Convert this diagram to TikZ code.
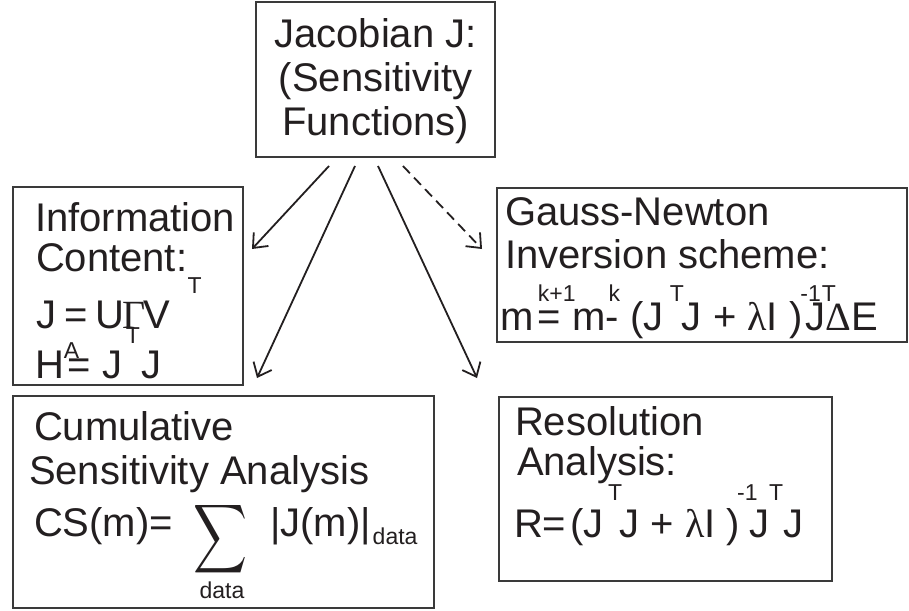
\documentclass[tikz,border=0pt]{standalone}
\usepackage{fontspec}
\setmainfont{Liberation Sans}
\newfontfamily\grk{Liberation Serif}
\usepackage{graphicx}
\usetikzlibrary{arrows.meta}
\definecolor{ink}{HTML}{231F20}
\definecolor{edge}{HTML}{3A3A3A}
\newcommand\supf{\fontsize{23}{23}\selectfont}
\newcommand\myup[2]{\raisebox{#1pt}{\supf #2}}
\newcommand\myov[3]{\rlap{\hspace*{#1pt}\raisebox{#2pt}{\supf #3}}}
\begin{document}
\begin{tikzpicture}[x=1pt,y=-1pt,
  box/.style={draw=edge, line width=1.6pt, inner sep=0pt, outer sep=0pt},
  txt/.style={inner sep=0pt, outer sep=0pt, anchor=base west, text=ink, font=\fontsize{40}{44}\selectfont},
  ctxt/.style={txt, anchor=base},
  arr/.style={draw=ink, line width=1.8pt, -{Straight Barb[length=12pt,width=20pt]}},
]
\fill[white] (0,0) rectangle (909,610);
\useasboundingbox (0,0) rectangle (909,610);

% boxes
\node[box, minimum width=239pt, minimum height=155pt] (top) at (375.5,79.5) {};
\node[box, minimum width=230pt, minimum height=198pt] (info) at (128,286) {};
\node[box, minimum width=410pt, minimum height=154pt] (gauss) at (702,265) {};
\node[box, minimum width=421pt, minimum height=212pt] (cum) at (223.5,502) {};
\node[box, minimum width=333pt, minimum height=184pt] (res) at (665.5,489) {};

% top box text
\node[ctxt] (t1) at (375.5,47.7) {Jacobian J:};
\node[ctxt] (t2) at (375.5,91.7) {(Sensitivity};
\node[ctxt] (t3) at (375.5,135) {Functions)};

% information content
\node[txt] (i1) at (35,231) {Information};
\node[txt] (i2) at (36,271) {Content:};
\node[txt] (i3) at (36,328) {J\hspace{8pt}=\hspace{8pt}U\hspace{-2pt}{\grk Γ}\hspace{-2pt}V\hspace{17.5pt}\myup{35}{T}};
\node[txt] (i4) at (35,378) {H\myov{0}{20}{A}\hspace{4pt}= J\hspace{3.5pt}\myup{35}{T}\hspace{2pt}J};

% Gauss-Newton
\node[txt] (g1) at (505,225) {Gauss-Newton};
\node[txt] (g2) at (505,268) {Inversion scheme:};
\node[txt] (g3) at (500.5,330) {m\myov{4}{29}{k+1}\hspace{4pt}= m\myov{3}{29}{k}- (J\hspace{6.5pt}\myup{29}{T}\hspace{-2pt}J + {\grk λ}I )\myov{-2}{29}{-1\hspace{1pt}T}\hspace{3pt}J{\grk Δ}E};

% cumulative sensitivity
\node[txt] (c1) at (34,440) {Cumulative};
\node[txt] (c2) at (29,484) {Sensitivity Analysis};
\node[txt] (c3) at (34,536) {CS(m)=};
\node[inner sep=0pt, outer sep=0pt, anchor=north west, text=ink] (csum) at (193,501) {\resizebox*{54pt}{77pt}{$\displaystyle\sum$}};
\node[ctxt, font=\supf] (cdata) at (222,598) {data};
\node[txt] (c4) at (270,536) {|J(m)|\hspace{2pt}\raisebox{-8pt}{\supf data}};

% resolution
\node[txt] (r1) at (515,435) {Resolution};
\node[txt] (r2) at (517,475) {Analysis:};
\node[txt] (r3) at (514,537) {R=\hspace{4pt}(J\hspace{4.5pt}\myup{37}{T}\hspace{-2.5pt}J + {\grk λ}I )\myov{-3}{37}{-1}\hspace{9pt}J\myup{37}{T}J};

% connectors
\draw[arr] ([xshift=-46.5pt,yshift=-9pt]top.south) -- ([xshift=9pt,yshift=37pt]info.east);
\draw[arr] ([xshift=-20.5pt,yshift=-9pt]top.south) -- ([xshift=33.5pt,yshift=18pt]cum.north);
\draw[arr] ([xshift=2.5pt,yshift=-9pt]top.south) -- ([xshift=-22pt,yshift=19pt]res.north west);
\draw[arr, dash pattern=on 10pt off 6pt] ([xshift=27.5pt,yshift=-9pt]top.south) -- ([xshift=-15pt,yshift=16pt]gauss.west);
\end{tikzpicture}
\end{document}
